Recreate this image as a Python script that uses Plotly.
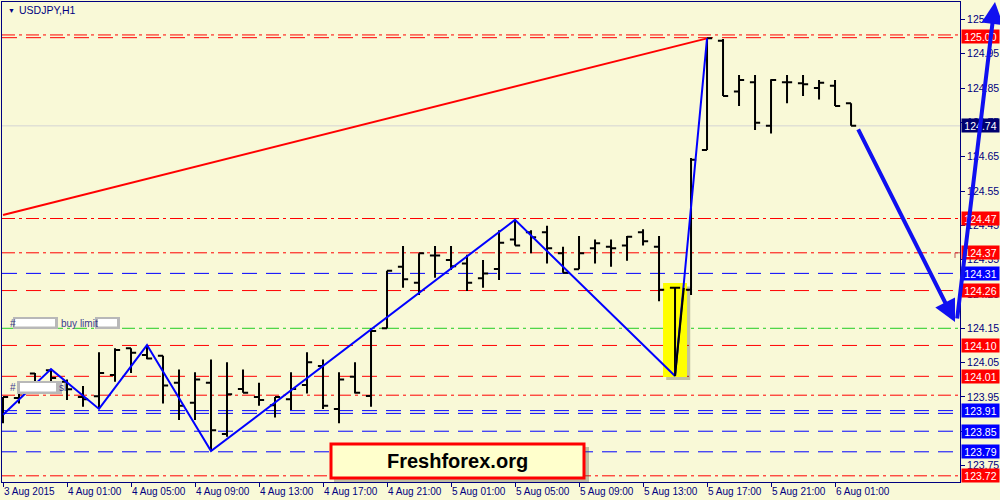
import plotly.graph_objects as go

# ---------------- data (H1 bars, index 0 = 3 Aug 2015 21:00) ----------------
bar_index = list(range(54))
opens = [123.912, 123.947, 124.018, 124.028, 123.994, 123.950, 123.952, 124.014, 124.092, 124.072,
         124.070, 123.991, 123.933, 123.991, 123.842, 123.973, 123.950, 123.926, 123.943, 123.985,
         124.040, 123.915, 124.009, 123.953, 124.150, 124.329, 124.283, 124.362, 124.349, 124.339,
         124.296, 124.323, 124.409, 124.430, 124.430, 124.369, 124.322, 124.383, 124.388, 124.391,
         124.430, 124.388, 124.268, 124.262, 124.670, 124.988, 124.840, 124.867, 124.740, 124.867,
         124.864, 124.850, 124.857, 124.806]
highs = [123.950, 123.965, 124.020, 124.030, 124.001, 123.982, 124.080, 124.092, 124.092, 124.101,
         124.070, 124.030, 124.022, 124.059, 124.051, 124.030, 123.991, 123.950, 124.022, 124.080,
         124.059, 124.022, 124.051, 124.150, 124.318, 124.390, 124.369, 124.390, 124.390, 124.364,
         124.349, 124.436, 124.466, 124.436, 124.449, 124.388, 124.419, 124.409, 124.409, 124.419,
         124.439, 124.419, 124.268, 124.646, 124.995, 124.993, 124.888, 124.888, 124.876, 124.888,
         124.888, 124.874, 124.874, 124.806]
lows = [123.873, 123.931, 123.964, 123.996, 123.941, 123.921, 123.915, 123.994, 124.020, 124.060,
        123.931, 123.883, 123.883, 123.792, 123.834, 123.962, 123.924, 123.890, 123.912, 123.960,
        123.915, 123.873, 123.960, 123.921, 124.150, 124.268, 124.247, 124.297, 124.320, 124.259,
        124.268, 124.291, 124.391, 124.369, 124.339, 124.312, 124.322, 124.339, 124.329, 124.347,
        124.391, 124.229, 124.011, 124.247, 124.670, 124.827, 124.798, 124.728, 124.718, 124.806,
        124.827, 124.817, 124.798, 124.740]
closes = [123.950, 123.961, 123.985, 124.005, 123.972, 123.943, 124.020, 124.087, 124.079, 124.062,
          123.983, 123.924, 124.001, 123.853, 123.958, 123.962, 123.941, 123.950, 123.973, 124.051,
          123.924, 124.001, 123.962, 124.142, 124.318, 124.293, 124.369, 124.362, 124.331, 124.283,
          124.310, 124.399, 124.391, 124.415, 124.383, 124.312, 124.369, 124.398, 124.383, 124.417,
          124.404, 124.262, 124.268, 124.641, 124.995, 124.827, 124.874, 124.749, 124.874, 124.867,
          124.861, 124.866, 124.798, 124.740]

x_tick_pos = [0, 4, 8, 12, 16, 20, 24, 28, 32, 36, 40, 44, 48, 52]
x_tick_labels = ["3 Aug 2015", "4 Aug 01:00", "4 Aug 05:00", "4 Aug 09:00", "4 Aug 13:00",
                 "4 Aug 17:00", "4 Aug 21:00", "5 Aug 01:00", "5 Aug 05:00", "5 Aug 09:00",
                 "5 Aug 13:00", "5 Aug 17:00", "5 Aug 21:00", "6 Aug 01:00"]
y_tick_vals = [125.05, 124.95, 124.85, 124.75, 124.65, 124.55, 124.45, 124.35,
               124.25, 124.15, 124.05, 123.95, 123.85, 123.75]

zigzag_x = [0, 3, 6, 9, 13, 32, 42, 44]
zigzag_y = [123.898, 124.031, 123.915, 124.101, 123.792, 124.466, 124.011, 124.995]

trend_x = [0, 44]
trend_y = [124.48, 124.995]

spike_x = [42, 42.55]
spike_y = [124.011, 124.268]

hline_prices = [125.005, 124.997, 124.74, 124.47, 124.37, 124.31, 124.26, 124.15,
                124.10, 124.01, 123.955, 123.910, 123.902, 123.85, 123.79, 123.72]
hline_kinds = ["rdd", "rd", "gray", "rdd", "rdd", "bd", "rd", "gdd",
               "rd", "rd", "rdd", "bd", "bd", "bd", "bd", "rdd"]

label_vals = [125.00, 124.74, 124.47, 124.37, 124.31, 124.26, 124.10, 124.01,
              123.91, 123.85, 123.79, 123.72]
label_kinds = ["r", "n", "r", "r", "b", "r", "r", "r", "b", "b", "b", "r"]

arrow1_tail = (53.4, 124.734)
arrow1_head = (59.5, 124.168)

# ---------------- styling ----------------
BG = "#F9F9D7"
NAVY = "#000080"
RED = "#FF0000"
BLUE = "#0000FF"
GREEN = "#22CC22"
FONT = "Liberation Sans"

W, H = 1000, 500
ML, MR, MT, MB = 2, 40, 2, 18
PW, PH = W - ML - MR, H - MT - MB


def px(xp):
    return (xp - ML) / PW


def py(yp):
    return (H - MB - yp) / PH


fig = go.Figure()

style_map = {
    "rdd": (RED, "13px,4px,3px,4px"),
    "rd": (RED, "15px,9px"),
    "gray": ("#D4D4D4", "solid"),
    "bd": (BLUE, "15px,9px"),
    "gdd": (GREEN, "13px,4px,3px,4px"),
}
shapes = []
for p, k in zip(hline_prices, hline_kinds):
    c, d = style_map[k]
    shapes.append(dict(type="line", xref="paper", yref="y", x0=0, x1=1, y0=p, y1=p,
                       line=dict(color=c, width=1, dash=d), layer="below"))

# small end markers of the 124.37 level
shapes.append(dict(type="path", xref="paper", yref="y",
                   path=f"M {px(955)},124.355 L {px(955)},124.37 L {px(960)},124.37",
                   line=dict(color="#C05050", width=1), layer="below"))

# yellow highlight with shadow
shapes.append(dict(type="rect", xref="x", yref="y", x0=41.45, x1=42.95, y0=123.999, y1=124.272,
                   fillcolor="rgba(90,90,60,0.35)", line=dict(width=0), layer="below"))
shapes.append(dict(type="rect", xref="x", yref="y", x0=41.25, x1=42.75, y0=124.008, y1=124.282,
                   fillcolor="#FFFF00", line=dict(width=0), layer="below"))


def box(x0, y0, x1, y1, fill, lw=0, lc=None):
    shapes.append(dict(type="rect", xref="paper", yref="paper", x0=px(x0), x1=px(x1),
                       y0=py(y1), y1=py(y0), fillcolor=fill,
                       line=dict(width=lw, color=lc or fill), layer="above"))


# order-label boxes (hidden ticket numbers)
box(13, 317, 58, 329, "#B8B8B8")
box(15, 319, 55, 326.5, "#FFFFFF")
box(95, 317, 120, 329, "#B8B8B8")
box(98, 319, 117, 326.5, "#FFFFFF")
box(17, 381, 62, 394, "#B8B8B8")
box(20, 383, 56, 391.5, "#FFFFFF")

# Freshforex box with shadow
box(334, 447, 589, 482, "rgba(80,80,60,0.35)")
box(331, 444, 584, 478, "#FFFFCC", 3, RED)

fig.add_trace(go.Ohlc(x=bar_index, open=opens, high=highs, low=lows, close=closes,
                      increasing=dict(line=dict(color="black", width=2)),
                      decreasing=dict(line=dict(color="black", width=2)),
                      tickwidth=0.32, hoverinfo="skip", showlegend=False))

fig.add_trace(go.Scatter(x=trend_x, y=trend_y, mode="lines",
                         line=dict(color=RED, width=2), showlegend=False, hoverinfo="skip"))
fig.add_trace(go.Scatter(x=zigzag_x, y=zigzag_y, mode="lines",
                         line=dict(color=BLUE, width=2), showlegend=False, hoverinfo="skip"))
fig.add_trace(go.Scatter(x=spike_x, y=spike_y, mode="lines",
                         line=dict(color="black", width=2), showlegend=False, hoverinfo="skip"))

annotations = []
kind_color = {"r": RED, "b": BLUE, "n": "#000070"}
for v, k in zip(label_vals, label_kinds):
    annotations.append(dict(xref="paper", yref="y", x=px(961), y=v, xanchor="left",
                            yanchor="middle", text=f"{v:.2f}", showarrow=False,
                            bgcolor=kind_color[k], width=35, height=11, borderpad=1,
                            font=dict(family=FONT, size=10.5, color="white")))

annotations.append(dict(xref="paper", yref="paper", x=px(6), y=py(10), xanchor="left",
                        yanchor="middle", text="▼", showarrow=False,
                        font=dict(family=FONT, size=7, color=NAVY)))
annotations.append(dict(xref="paper", yref="paper", x=px(17), y=py(10), xanchor="left",
                        yanchor="middle", text="USDJPY,H1", showarrow=False,
                        font=dict(family=FONT, size=10.5, color=NAVY)))

lab_col = "#3A3A90"
for xx, yy, tt in [(8, 323, "#"), (59, 323, "buy limit"), (8, 387, "#"), (57, 387, "sl")]:
    annotations.append(dict(xref="paper", yref="paper", x=px(xx), y=py(yy), xanchor="left",
                            yanchor="middle", text=tt, showarrow=False,
                            font=dict(family=FONT, size=10, color=lab_col)))

annotations.append(dict(xref="paper", yref="paper", x=px(457.5), y=py(461), xanchor="center",
                        yanchor="middle", text="<b>Freshforex.org</b>", showarrow=False,
                        font=dict(family=FONT, size=20, color="black")))

ARW = "#1010F0"
annotations.append(dict(xref="x", yref="y", axref="x", ayref="y",
                        x=arrow1_head[0], y=arrow1_head[1],
                        ax=arrow1_tail[0], ay=arrow1_tail[1], text="", showarrow=True,
                        arrowhead=2, arrowsize=1.1, arrowwidth=4, arrowcolor=ARW))
annotations.append(dict(xref="paper", yref="paper", x=px(995), y=py(2),
                        ax=-38, ay=318, text="", showarrow=True,
                        arrowhead=2, arrowsize=1.1, arrowwidth=4, arrowcolor=ARW))

fig.update_layout(
    width=W, height=H,
    margin=dict(l=ML, r=MR, t=MT, b=MB, pad=0, autoexpand=False),
    paper_bgcolor=BG, plot_bgcolor=BG,
    shapes=shapes, annotations=annotations,
    showlegend=False,
    xaxis=dict(range=[-0.0625, 59.81], tickvals=x_tick_pos, ticktext=x_tick_labels,
               ticks="outside", ticklen=4, tickcolor=NAVY, showgrid=False, zeroline=False,
               showline=True, linecolor=NAVY, linewidth=1, mirror=True,
               rangeslider=dict(visible=False), ticklabelposition="outside right",
               tickfont=dict(family=FONT, size=10, color=NAVY)),
    yaxis=dict(range=[123.702, 125.101], side="right", tickvals=y_tick_vals,
               ticktext=[f"{v:.2f}" for v in y_tick_vals],
               ticks="outside", ticklen=4, tickcolor=NAVY, showgrid=False, zeroline=False,
               showline=True, linecolor=NAVY, linewidth=1, mirror=True,
               tickfont=dict(family=FONT, size=10.5, color=NAVY)),
)

fig.write_html("out.html", config={"displayModeBar": False},
               post_script="document.body.style.margin='0';document.body.style.overflow='hidden';")
